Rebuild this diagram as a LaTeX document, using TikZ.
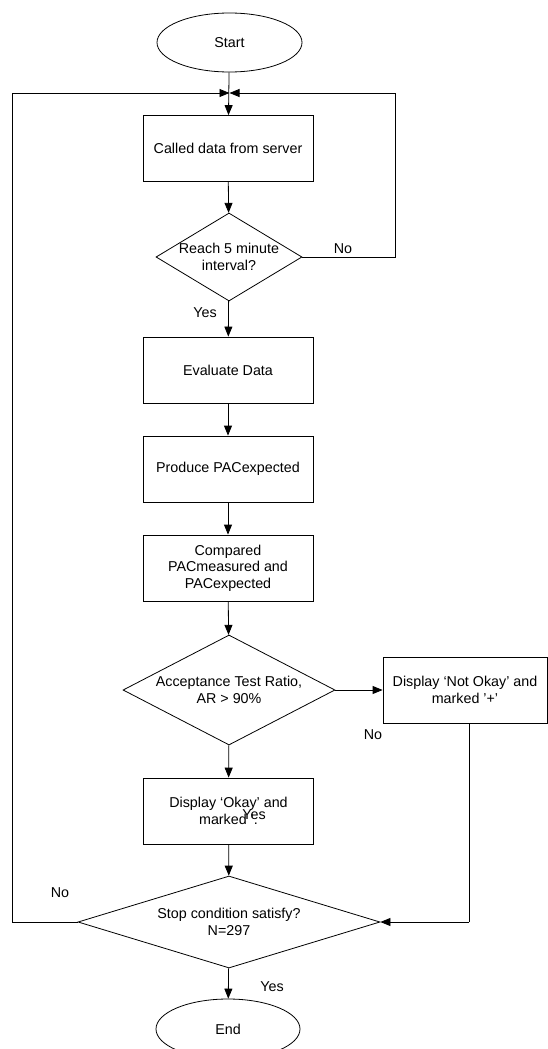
\documentclass[tikz,border=0pt]{standalone}
\usepackage{fontspec}
\setmainfont{Liberation Sans}
\usetikzlibrary{shapes.geometric,arrows.meta,calc}
\begin{document}
\begin{tikzpicture}[x=1pt,y=-1pt,
  every node/.style={font=\fontsize{14.3}{16.5}\selectfont},
  box/.style={draw, line width=0.8pt, minimum width=170pt, minimum height=66pt, align=center, inner sep=0pt},
  term/.style={draw, ellipse, line width=0.8pt, minimum width=145pt, minimum height=59pt, inner sep=0pt},
  dec/.style={draw, diamond, line width=0.8pt, inner sep=0pt},
  arr/.style={-{Triangle[length=10pt,width=8pt]}, line width=0.8pt},
  ln/.style={line width=0.8pt},
  lbl/.style={inner sep=0pt}]
\useasboundingbox (0,0) rectangle (548,1049);
\node[term] (start) at (229.5,42.5) {Start};
\coordinate (j) at (229.5,93);
\node[box] (b1) at (228,148.5) {Called data from server};
\node[dec, minimum width=146pt, minimum height=88pt] (d1) at (229,257) {};
\node[align=center] (t1) at (d1) {Reach 5 minute\\interval?};
\node[box] (b2) at (228,370) {Evaluate Data};
\node[box] (b3) at (228,469) {Produce PACexpected};
\node[box] (b4) at (228,568) {Compared\\PACmeasured and\\PACexpected};
\node[dec, minimum width=212pt, minimum height=110pt] (d2) at (229,690) {};
\node[align=center] (t2) at (d2) {Acceptance Test Ratio,\\AR > 90\%};
\node[box, minimum width=164pt] (b6) at (465,690) {Display ‘Not Okay’ and\\marked '+'};
\node[box] (b5) at (228.5,811) {Display ‘Okay’ and\\marked '.};
\node[dec, minimum width=302pt, minimum height=92pt] (d3) at (229,922) {};
\node[align=center] (t3) at (d3) {Stop condition satisfy?\\N=297};
\node[term, minimum width=144pt, minimum height=60pt] (end) at (228,1029) {End};

\coordinate (r1) at (395,257);
\coordinate (r2) at (395,93);
\coordinate (l1) at (12,922);
\coordinate (l2) at (12,93);
\coordinate (n1) at ($(b6.south)+(4,0)$);
\coordinate (n2) at (n1 |- d3.east);

\draw[arr] (start) -- (b1);
\draw[ln] (d1.east) -- (r1) -- (r2);
\draw[arr] (r2) -- (j);
\draw[ln] (d3.west) -- (l1) -- (l2);
\draw[arr] (l2) -- (j);
\draw[arr] (b1) -- (d1);
\draw[arr] (d1) -- (b2);
\draw[arr] (b2) -- (b3);
\draw[arr] (b3) -- (b4);
\draw[arr] (b4) -- (d2);
\draw[arr] (d2) -- (b6);
\draw[arr] (d2) -- (b5);
\draw[arr] (b5) -- (d3);
\draw[ln] (n1) -- (n2);
\draw[arr] (n2) -- (d3.east);
\draw[arr] (d3) -- (end);

\node[lbl] (y1) at (343,249) {No};
\node[lbl] (y2) at (205,313) {Yes};
\node[lbl] (y3) at (373,735) {No};
\node[lbl] (y4) at (254,815) {Yes};
\node[lbl] (y5) at (60,893) {No};
\node[lbl] (y6) at (272,987) {Yes};
\end{tikzpicture}
\end{document}
